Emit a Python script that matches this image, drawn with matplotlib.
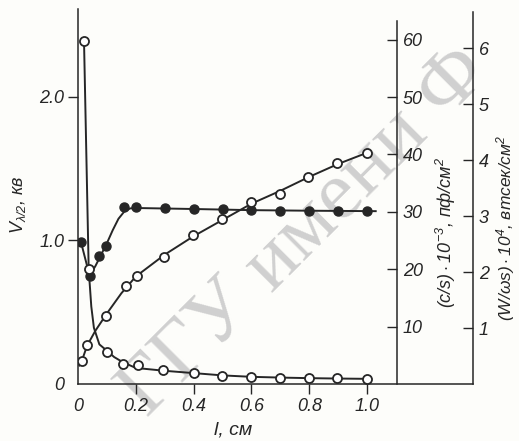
import matplotlib.pyplot as plt

plt.rcParams['font.family'] = ['Liberation Sans', 'DejaVu Sans']
plt.rcParams['font.style'] = 'italic'
plt.rcParams['mathtext.fontset'] = 'custom'
plt.rcParams['mathtext.rm'] = 'Liberation Sans'
plt.rcParams['mathtext.it'] = 'Liberation Sans:italic'

ink = '#262626'

# V_lambda/2, kV  (filled dots, left axis)
l_v = [0.01, 0.04, 0.074, 0.098, 0.16, 0.20, 0.30, 0.40, 0.50, 0.60, 0.70, 0.80, 0.90, 1.0]
v_half = [0.99, 0.755, 0.89, 0.96, 1.234, 1.23, 1.226, 1.218, 1.215, 1.208, 1.205, 1.205, 1.205, 1.205]
# hand drawn curve through them
l_v_fit = [0.01, 0.04, 0.06, 0.08, 0.10, 0.12, 0.14, 0.16, 0.18, 0.20, 0.40, 0.60, 0.80, 1.03]
v_half_fit = [0.99, 0.755, 0.82, 0.90, 0.98, 1.07, 1.15, 1.20, 1.222, 1.225, 1.218, 1.21, 1.206, 1.203]

# (c/s)*10^-3, pF/cm^2  (open circles, falling)
l_c = [0.021, 0.037, 0.10, 0.155, 0.206, 0.295, 0.40, 0.497, 0.60, 0.70, 0.80, 0.895, 1.0]
c_s = [59.7, 20.0, 5.66, 3.56, 3.38, 2.5, 1.93, 1.48, 1.20, 1.13, 1.08, 1.05, 0.95]
l_c_fit = [0.021, 0.037, 0.046, 0.055, 0.074, 0.10, 0.125, 0.155, 0.20, 0.30, 0.40, 0.50, 0.60, 0.70, 0.80, 0.90, 1.0]
c_s_fit = [59.3, 20.0, 13.5, 9.8, 6.9, 5.8, 4.7, 3.8, 2.8, 2.3, 1.9, 1.5, 1.25, 1.12, 1.02, 0.95, 0.9]

# (W/ws)*10^4, W*s/cm^2  (open circles, rising)
l_w = [0.015, 0.032, 0.096, 0.167, 0.203, 0.298, 0.397, 0.497, 0.60, 0.70, 0.795, 0.896, 1.0]
w_ws = [0.41, 0.69, 1.22, 1.75, 1.93, 2.26, 2.66, 2.94, 3.25, 3.39, 3.70, 3.94, 4.13]
l_w_fit = [0.005, 0.015, 0.032, 0.06, 0.10, 0.15, 0.20, 0.30, 0.40, 0.50, 0.60, 0.70, 0.80, 0.90, 1.0]
w_ws_fit = [0.33, 0.44, 0.69, 0.95, 1.26, 1.62, 1.92, 2.31, 2.64, 2.93, 3.22, 3.45, 3.70, 3.93, 4.13]

x_ticks = [0, 0.2, 0.4, 0.6, 0.8, 1.0]
x_labels = ['0', '0.2', '0.4', '0.6', '0.8', '1.0']
v_ticks = [0, 1.0, 2.0]
v_labels = ['0', '1.0', '2.0']
c_ticks = [10, 20, 30, 40, 50, 60]
w_ticks = [1, 2, 3, 4, 5, 6]

top = 2.61
fig = plt.figure(figsize=(5.19, 4.41), dpi=100)
fig.patch.set_facecolor('#fdfdfa')

# watermark of the scanned page
fig.text(305 / 519, 1 - 232 / 441, 'ГГУ имени Ф', rotation=45, ha='center', va='center',
         fontsize=60, color='#d0d0d0', style='normal',
         family=['Liberation Serif', 'DejaVu Serif'], zorder=-1)

ax = fig.add_axes([78 / 519, 57 / 441, 395.4 / 519, 375 / 441])
ax.patch.set_visible(False)
ax.set_xlim(0, 1.368)
ax.set_ylim(0, top)
ax_c = ax.twinx()
ax_c.set_ylim(0, top * 25.04)
ax_w = ax.twinx()
ax_w.set_ylim(0, top * 2.566)

for a in (ax, ax_c, ax_w):
    for s in a.spines.values():
        s.set_visible(False)
        s.set_color(ink)
        s.set_linewidth(1.1)
ax.spines['left'].set_visible(True)
ax.spines['bottom'].set_visible(True)
ax_c.spines['right'].set_visible(True)
ax_c.spines['right'].set_position(('axes', 1.105 / 1.368))
ax_c.spines['right'].set_bounds(0, 63.3)
ax_w.spines['right'].set_visible(True)
ax_w.spines['right'].set_bounds(0, 6.65)

ax.set_xticks(x_ticks, x_labels)
ax.set_yticks(v_ticks, v_labels)
ax.tick_params(direction='out', length=7, width=1, colors=ink, labelsize=13, pad=3)
ax.xaxis.get_major_ticks()[0].tick1line.set_visible(False)
ax.yaxis.get_major_ticks()[0].tick1line.set_visible(False)
ax_c.set_yticks(c_ticks)
ax_c.tick_params(direction='in', length=7, width=1, colors=ink, labelsize=13, pad=4)
ax_w.set_yticks(w_ticks)
ax_w.tick_params(direction='in', length=7, width=1, colors=ink, labelsize=13, pad=4)

# curves
ax.plot(l_v_fit, v_half_fit, color=ink, lw=1.4)
ax.plot(l_v, v_half, 'o', ms=6.5, color=ink, mec=ink)
ax_c.plot(l_c_fit, c_s_fit, color=ink, lw=1.4)
ax_c.plot(l_c, c_s, 'o', ms=6.5, mfc='white', mec=ink, mew=1.3)
ax_w.plot(l_w_fit, w_ws_fit, color=ink, lw=1.4)
ax_w.plot(l_w, w_ws, 'o', ms=6.5, mfc='white', mec=ink, mew=1.3)

fig.text(18 / 519, 1 - 205 / 441, r'$V_{\lambda/2}$, кв', rotation=90, ha='center', va='center',
         fontsize=13, color=ink)
fig.text(233 / 519, 1 - 430 / 441, 'l, см', ha='center', va='center', fontsize=14, color=ink)
fig.text(446 / 519, 1 - 232 / 441, r'$(c/s)\cdot10^{-3}$, пф/см$^2$', rotation=90,
         ha='center', va='center', fontsize=13, color=ink)
fig.text(506 / 519, 1 - 228 / 441, r'$(W/\omega s)\cdot10^{4}$, втсек/см$^2$', rotation=90,
         ha='center', va='center', fontsize=12.5, color=ink)

fig.savefig('out.png', dpi=100, facecolor=fig.get_facecolor())
